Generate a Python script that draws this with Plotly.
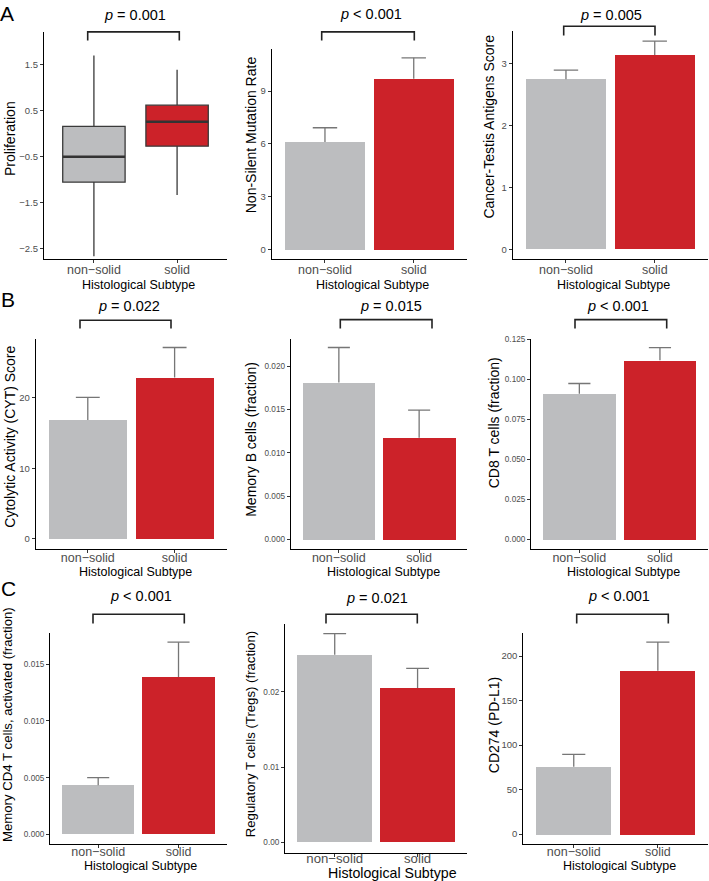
import plotly.graph_objects as go

W, H = 709, 881
FONT = "Liberation Sans, Arial, Helvetica, sans-serif"
GRAY = "#BCBDBF"
RED = "#CC2229"
TICKCOL = "#4D4D4D"
ERRCOL = "#767676"

# ---------------- data ----------------
categories = ["non\u2212solid", "solid"]

# Panel A1: Proliferation (box plot summary)
prolif_low = [-2.66, -1.33]
prolif_q1 = [-1.05, -0.27]
prolif_median = [-0.50, 0.26]
prolif_q3 = [0.16, 0.62]
prolif_high = [1.70, 1.39]

mutation_mean = [6.11, 9.70]
mutation_err = [0.81, 1.18]

cta_mean = [2.75, 3.145]
cta_err = [0.15, 0.225]

cyt_mean = [16.85, 22.87]
cyt_err = [3.19, 4.23]

memb_mean = [0.0181, 0.01172]
memb_err = [0.00404, 0.0032]

cd8_mean = [0.0911, 0.1121]
cd8_err = [0.0064, 0.0078]

cd4act_mean = [0.00433, 0.01386]
cd4act_err = [0.00067, 0.00307]

treg_mean = [0.02489, 0.0205]
treg_err = [0.00282, 0.00258]

cd274_mean = [75.7, 183.6]
cd274_err = [13.8, 32.1]

# tick labels
ticks_prolif = [-2.5, -1.5, -0.5, 0.5, 1.5]
ticks_prolif_text = ["\u22122.5", "\u22121.5", "\u22120.5", "0.5", "1.5"]
ticks_mut = [0, 3, 6, 9]
ticks_cta = [0, 1, 2, 3]
ticks_cyt = [0, 10, 20]
ticks_memb = [0, 0.005, 0.010, 0.015, 0.020]
ticks_memb_text = ["0.000", "0.005", "0.010", "0.015", "0.020"]
ticks_cd8 = [0, 0.025, 0.05, 0.075, 0.1, 0.125]
ticks_cd8_text = ["0.000", "0.025", "0.050", "0.075", "0.100", "0.125"]
ticks_cd4 = [0, 0.005, 0.010, 0.015]
ticks_cd4_text = ["0.000", "0.005", "0.010", "0.015"]
ticks_treg = [0, 0.01, 0.02]
ticks_treg_text = ["0.00", "0.01", "0.02"]
ticks_cd274 = [0, 50, 100, 150, 200]

pvalues = ["= 0.001", "< 0.001", "= 0.005", "= 0.022", "= 0.015", "< 0.001",
           "< 0.001", "= 0.021", "< 0.001"]
ytitles = ["Proliferation", "Non-Silent Mutation Rate", "Cancer-Testis Antigens Score",
           "Cytolytic Activity (CYT) Score", "Memory B cells (fraction)", "CD8 T cells (fraction)",
           "Memory CD4 T cells, activated (fraction)", "Regulatory T cells (Tregs) (fraction)",
           "CD274 (PD-L1)"]
xtitle = "Histological Subtype"


def fx(p):
    return p / W


def fy(p):
    return 1 - p / H


# ---------------- layout geometry (pixels) ----------------
panels = [
    dict(l=44, r=227, t=29, b=257, yr=[-2.72, 2.21], tv=ticks_prolif, tt=ticks_prolif_text, tfs=9.5),
    dict(l=271.7, r=467, t=46, b=257.3, yr=[-0.54, 11.39], tv=ticks_mut, tt=None, tfs=9.5),
    dict(l=512.7, r=708, t=28.3, b=257.3, yr=[-0.166, 3.53], tv=ticks_cta, tt=None, tfs=9.5),
    dict(l=35.7, r=226.7, t=336.7, b=547.7, yr=[-1.41, 28.37], tv=ticks_cyt, tt=None, tfs=9.5),
    dict(l=290.7, r=467.3, t=336.7, b=547.7, yr=[-0.00108, 0.02317], tv=ticks_memb, tt=ticks_memb_text, tfs=8.2),
    dict(l=531, r=708.3, t=336.7, b=547.7, yr=[-0.0059, 0.1256], tv=ticks_cd8, tt=ticks_cd8_text, tfs=8.2),
    dict(l=50, r=226.7, t=632.3, b=844, yr=[-0.00085, 0.01772], tv=ticks_cd4, tt=ticks_cd4_text, tfs=8.2),
    dict(l=285, r=467.3, t=623.3, b=852.7, yr=[-0.00137, 0.02895], tv=ticks_treg, tt=ticks_treg_text, tfs=8.2),
    dict(l=523.3, r=708.3, t=631.7, b=844, yr=[-11.2, 226.4], tv=ticks_cd274, tt=None, tfs=9.5),
]

ytitle_pos = [(9.5, 136, 14), (250.7, 132, 14), (489, 124, 14),
              (9.2, 435, 14), (250.8, 437.5, 14), (493.7, 421, 14),
              (7.5, 724, 13.2), (250.8, 734, 13.2), (493.7, 725, 14)]
xtitle_pos = [(138.3, 282.7, 12.5), (372.7, 282.7, 12.5), (613.3, 282.7, 12.5),
              (135, 571, 12.5), (383, 571, 12.5), (623.3, 571, 12.5),
              (140.8, 866, 12.5), (392.5, 873, 14.2), (619.7, 866, 12.5)]
xtick_size = [12.5] * 7 + [13.2, 12.5]
xtick_standoff = [-4, -4, -4, -6, -6, -6, -7, -10, -7]
p_pos = [(134.5, 11.7), (371.2, 11), (610.8, 11.7),
         (129.3, 304), (390.8, 304), (617.5, 304),
         (140.5, 595), (377.3, 596.7), (618.8, 595)]
brackets = [(87.7, 179.3, 29, 37.7), (321.7, 414.3, 29, 37.7), (563.7, 655, 23.3, 32.7),
            (80, 171, 318.3, 326.7), (340.3, 432, 317.7, 326.7), (575, 666.7, 317.7, 326.7),
            (93, 184.3, 613.3, 622.7), (326, 417.3, 613.3, 622.7), (576.7, 668.3, 613.3, 622.7)]
letters = [("A", 7, 11), ("B", 8, 297.5), ("C", 8, 588)]

BAR_W = 0.9
CAP_HALF = 0.1375

fig = go.Figure()

# ---------------- panel A1: box plot ----------------
fills = [GRAY, RED]
for i in range(2):
    fig.add_trace(go.Box(
        x=[i], q1=[prolif_q1[i]], median=[prolif_median[i]], q3=[prolif_q3[i]],
        lowerfence=[prolif_low[i]], upperfence=[prolif_high[i]],
        width=0.75, fillcolor=fills[i], line=dict(color="#3A3A3A", width=1.3),
        whiskerwidth=0, boxpoints=False, showlegend=False, hoverinfo="skip",
        xaxis="x", yaxis="y"))
    fig.add_trace(go.Scatter(
        x=[i - 0.375, i + 0.375], y=[prolif_median[i], prolif_median[i]],
        mode="lines", line=dict(color="#333333", width=2.6),
        showlegend=False, hoverinfo="skip", xaxis="x", yaxis="y"))

# ---------------- bar panels ----------------
bar_sets = [(mutation_mean, mutation_err), (cta_mean, cta_err), (cyt_mean, cyt_err),
            (memb_mean, memb_err), (cd8_mean, cd8_err), (cd4act_mean, cd4act_err),
            (treg_mean, treg_err), (cd274_mean, cd274_err)]
for k, (m, e) in enumerate(bar_sets):
    n = k + 2
    fig.add_trace(go.Bar(
        x=[0, 1], y=m, width=BAR_W, marker=dict(color=[GRAY, RED], line=dict(width=0)),
        showlegend=False, hoverinfo="skip",
        xaxis=f"x{n}", yaxis=f"y{n}"))
    # upper error bars only (lower half hidden behind the bar, as in ggplot)
    ex, ey = [], []
    for i in range(2):
        top = m[i] + e[i]
        ex += [i, i, None, i - CAP_HALF, i + CAP_HALF, None]
        ey += [m[i], top, None, top, top, None]
    fig.add_trace(go.Scatter(
        x=ex, y=ey, mode="lines", line=dict(color=ERRCOL, width=1.3),
        showlegend=False, hoverinfo="skip", xaxis=f"x{n}", yaxis=f"y{n}"))

layout = dict(
    width=W, height=H, margin=dict(l=0, r=0, t=0, b=0),
    paper_bgcolor="white", plot_bgcolor="white",
    font=dict(family=FONT, color="black"),
    showlegend=False, bargap=0,
)

annotations = []
shapes = []
for idx, p in enumerate(panels):
    n = idx + 1
    sfx = "" if n == 1 else str(n)
    layout[f"xaxis{sfx}"] = dict(
        domain=[fx(p["l"]), fx(p["r"])], anchor=f"y{sfx}", range=[-0.6, 1.6],
        tickvals=[0, 1], ticktext=categories, showline=True, linecolor="black",
        linewidth=1.1, ticks="outside", ticklen=3, tickcolor="#333333", tickwidth=1,
        tickfont=dict(size=xtick_size[idx], color=TICKCOL, family=FONT),
        ticklabelstandoff=xtick_standoff[idx],
        showgrid=False, zeroline=False, fixedrange=True)
    ya = dict(
        domain=[fy(p["b"]), fy(p["t"])], anchor=f"x{sfx}", range=p["yr"],
        tickvals=p["tv"], showline=True, linecolor="black", linewidth=1.1,
        ticks="outside", ticklen=3, tickcolor="#333333", tickwidth=1,
        tickfont=dict(size=p["tfs"], color=TICKCOL, family=FONT),
        showgrid=False, zeroline=False, fixedrange=True)
    if p["tt"] is not None:
        ya["ticktext"] = p["tt"]
    layout[f"yaxis{sfx}"] = ya

    tx, ty, ts = ytitle_pos[idx]
    annotations.append(dict(text=ytitles[idx], x=fx(tx), y=fy(ty), xref="paper", yref="paper",
                            textangle=-90, showarrow=False, xanchor="center", yanchor="middle",
                            font=dict(size=ts, family=FONT, color="black")))
    tx, ty, ts = xtitle_pos[idx]
    annotations.append(dict(text=xtitle, x=fx(tx), y=fy(ty), xref="paper", yref="paper",
                            showarrow=False, xanchor="center", yanchor="middle",
                            font=dict(size=ts, family=FONT, color="black")))
    px_, py_ = p_pos[idx]
    annotations.append(dict(text="<i>p</i> " + pvalues[idx], x=fx(px_), y=fy(py_),
                            xref="paper", yref="paper", showarrow=False,
                            xanchor="center", yanchor="middle",
                            font=dict(size=14.5, family=FONT, color="black")))
    x1, x2, yt, yb = brackets[idx]
    shapes.append(dict(type="path", xref="paper", yref="paper",
                       path=f"M {fx(x1)},{fy(yb)} L {fx(x1)},{fy(yt)} L {fx(x2)},{fy(yt)} L {fx(x2)},{fy(yb)}",
                       line=dict(color="#222222", width=1.6)))

for txt, lx, ly in letters:
    annotations.append(dict(text=txt, x=fx(lx), y=fy(ly), xref="paper", yref="paper",
                            showarrow=False, xanchor="center", yanchor="middle",
                            font=dict(size=21, family=FONT, color="black")))

layout["annotations"] = annotations
layout["shapes"] = shapes
fig.update_layout(**layout)

fig.write_html("out.html", config={"displayModeBar": False},
               post_script="document.body.style.margin='0';document.body.style.padding='0';")
